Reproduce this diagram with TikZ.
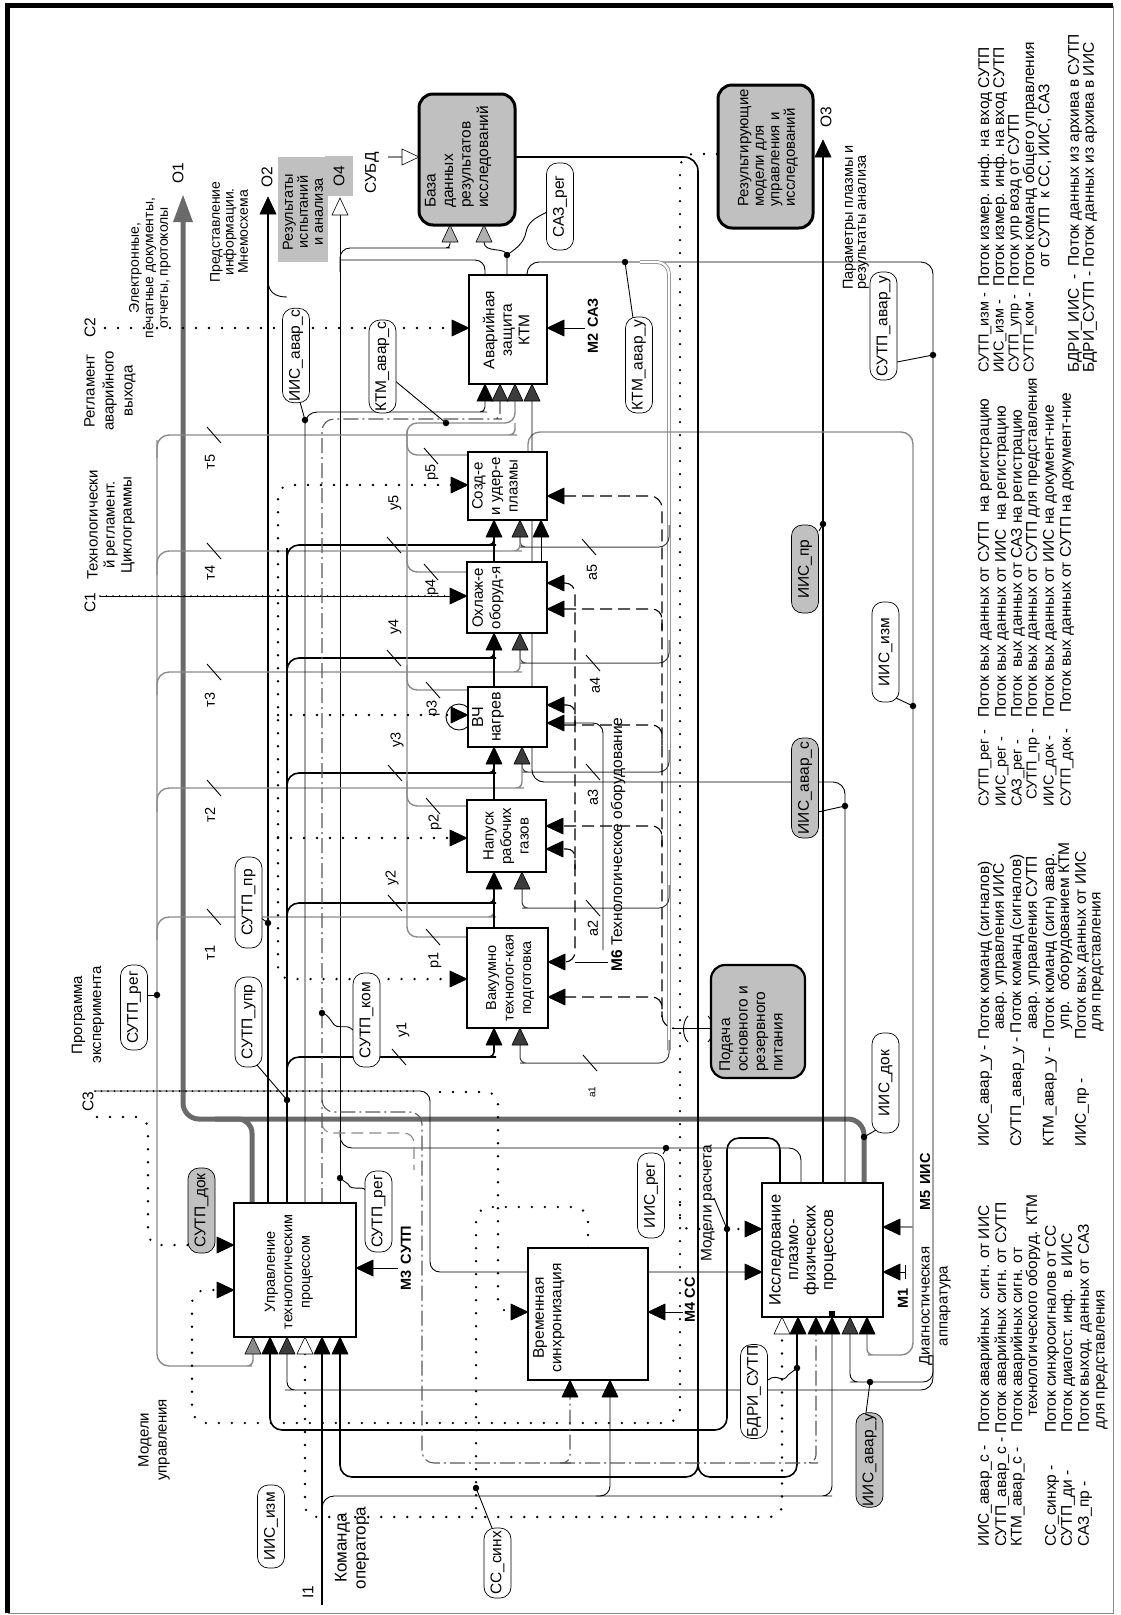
\documentclass[tikz,border=0pt]{standalone}
\usepackage{fontspec}
\setmainfont{Liberation Sans}
\usetikzlibrary{arrows.meta}
\definecolor{dg}{HTML}{3C3C3C}
\definecolor{mg}{HTML}{8A8A8A}
\definecolor{tg}{HTML}{6A6A6A}
\definecolor{lg}{HTML}{C0C0C0}
\definecolor{ag}{HTML}{B0B0B0}
\newcommand{\tipU}[3][black]{\filldraw[fill=#1,draw=black,line width=0.6pt] (#2,#3) -- ++(-8,17) -- ++(16,0) -- cycle;}
\newcommand{\tipR}[3][black]{\filldraw[fill=#1,draw=black,line width=0.6pt] (#2,#3) -- ++(-17,-8) -- ++(0,16) -- cycle;}
\newcommand{\tipL}[3][black]{\filldraw[fill=#1,draw=black,line width=0.6pt] (#2,#3) -- ++(17,-8) -- ++(0,16) -- cycle;}
\newcommand{\tick}[2]{\draw[line width=0.9pt] (#1-7,#2-8) -- (#1+7,#2+8);}
\newcommand{\fbx}[1]{\fontsize{#1}{17.5}\selectfont}
\newcommand{\flab}{\fontsize{15.5}{17}\selectfont}
\newcommand{\fleg}{\fontsize{15.5}{16}\selectfont}
\newcommand{\flegs}{\fontsize{14.5}{16}\selectfont}
\newcommand{\fsm}{\fontsize{14.5}{16}\selectfont}
\newcommand{\fmb}{\bfseries\fontsize{14.5}{16}\selectfont}
\newcommand{\legl}[3]{\node[rotate=90, anchor=west, inner sep=0pt, font=\fleg] at (#1,#2) {#3};}
\newcommand{\legs}[3]{\node[rotate=90, anchor=west, inner sep=0pt, font=\flegs] at (#1,#2) {#3};}
\begin{document}
\begin{tikzpicture}[x=1pt,y=-1pt,
 pbox/.style={draw, line width=1.6pt, fill=white, inner sep=0pt},
 gbox/.style={draw, line width=3pt, fill=lg, rounded corners=14pt, inner sep=0pt},
 blk/.style={line width=1.6pt},
 thn/.style={line width=0.9pt},
 gry/.style={draw=mg, line width=1.4pt},
 agl/.style={draw=black!75, line width=1pt},
 tgl/.style={draw=tg, line width=5pt},
 dotl/.style={line width=2.6pt, dash pattern=on 0pt off 13pt, line cap=round},
 ddot/.style={line width=2pt, dash pattern=on 0pt off 6.5pt, line cap=round},
 dshl/.style={line width=1.1pt, dash pattern=on 12pt off 6pt},
 ddl/.style={draw=black!65, line width=1.1pt, dash pattern=on 15pt off 4pt on 2pt off 4pt},
 lab/.style={draw, line width=0.7pt, rotate=90, rounded corners=11pt, fill=white, inner sep=1pt, font=\flab, minimum height=27pt},
 glab/.style={lab, fill=lg},
 txt/.style={rotate=90, inner sep=0pt, align=center},
 jdot/.style={circle, fill, inner sep=0pt, minimum size=6.5pt},
]
\useasboundingbox (0,0) rectangle (1121,1615);
\fill[white] (0,0) rectangle (1121,1615);
% frame
\draw[line width=5pt] (7.5,1613) -- (7.5,5.5) -- (1113,5.5);
\draw[mg, line width=1pt] (1113,5.5) -- (1113,1613) -- (7.5,1613);

% ================= LINES =================
% O1 thick gray
\draw[tgl, rounded corners=16pt] (864,1183) |- (183,1119) -- (183,218);
\draw[tgl, rounded corners=14pt] (252,1203) |- (215,1119);
% O2
\draw[blk] (268,1203) -- (268,214);
\draw[thn] (268,280) .. controls (268,292) and (275,297) .. (287,297);
% O4 and DB
\draw[thn] (340,1203) -- (340,214);
\draw[thn, rounded corners=10pt] (340,272) |- (440,248) [rounded corners=4pt] -| (450,242);
\draw[thn, rounded corners=10pt] (485,275) |- (340,260);
\draw[thn] (507,275) -- (507,256) .. controls (507,246) and (484,254) .. (484,242);
% O3
\draw[blk] (823,1183) -- (823,157);
% SUTP_avar_u loop
\draw[thn, rounded corners=12pt] (527,275) |- (933,262) |- (297,1390) [rounded corners=8pt] -| (287,1354);
\draw[thn, rounded corners=10pt] (933,1355) |- (860,1382) [rounded corners=8pt] -| (850,1334);
% a bus
\draw[mg, double=white, double distance=2.2pt, line width=0.8pt, rounded corners=12pt] (640,262) -| (669,1050);
\draw[agl, rounded corners=10pt] (669,1040) |- (530,1063) [rounded corners=6pt] -| (520,1045);
\draw[agl, rounded corners=10pt] (669,525) |- (530,547) [rounded corners=5pt] -| (520,537);
\draw[agl, rounded corners=10pt] (669,640) |- (530,663) [rounded corners=6pt] -| (520,650);
\draw[agl, rounded corners=10pt] (669,750) |- (532,772) [rounded corners=6pt] -| (522,764);
\draw[agl, rounded corners=10pt] (669,885) |- (532,908) [rounded corners=6pt] -| (522,889);
% tau bus
\draw[gry, rounded corners=12pt] (157,458) |- (505,435) [rounded corners=6pt] -| (515,423);
\draw[gry, rounded corners=12pt] (157,440) -- (157,1366) -- (240,1366) [rounded corners=6pt] -| (253,1354);
\draw[gry, rounded corners=12pt] (157,575) |- (510,551) [rounded corners=6pt] -| (520,537);
\draw[gry, rounded corners=12pt] (157,695) |- (510,672) [rounded corners=6pt] -| (520,650);
\draw[gry, rounded corners=12pt] (157,812) |- (512,788) [rounded corners=6pt] -| (522,764);
\draw[gry, rounded corners=12pt] (157,940) |- (484,917) [rounded corners=6pt] -| (494,889);
% y bus
\draw[blk, rounded corners=12pt] (287,1203) -- (287,560) |- (484,545) [rounded corners=5pt] -| (494,537);
\draw[blk, rounded corners=12pt] (287,680) |- (484,658) [rounded corners=5pt] -| (494,650);
\draw[blk, rounded corners=12pt] (287,797) |- (484,773) [rounded corners=5pt] -| (494,764);
\draw[blk, rounded corners=12pt] (287,927) |- (484,903) [rounded corners=5pt] -| (494,889);
\draw[blk, rounded corners=12pt] (287,1080) |- (484,1057) [rounded corners=5pt] -| (494,1045);
% column verticals
\draw[blk] (494,928) -- (494,889);
\draw[blk] (494,800) -- (494,764);
\draw[blk] (494,687) -- (494,650);
\draw[blk] (494,562) -- (494,537);
\draw[thn] (541,562) -- (541,537);
% Sozd top -> IIS
\draw[gry, rounded corners=12pt] (528,452) |- (913,432) -- (913,1355) -- (880,1355) [rounded corners=6pt] -| (867,1334);
\draw[gry] (913,1227) -- (900,1227);
% I top 845 -> Avar 532
\draw[thn, rounded corners=12pt] (845,1183) |- (532,782) -- (532,401);
% p loop (gray)
\draw[gry, rounded corners=10pt] (467,937) -| (407,423) -| (515,401);
\draw[gry, rounded corners=10pt] (407,430) |- (467,455);
\draw[gry, rounded corners=10pt] (407,547) |- (467,572);
\draw[gry, rounded corners=10pt] (407,665) |- (468,690);
\draw[gry, rounded corners=10pt] (407,781) |- (467,806);
% dotted p bus
\draw[dotl, rounded corners=12pt] (451,485) -| (278,979) -- (451,979);
\draw[dotl] (278,715) -- (451,715);
\draw[dotl] (278,838) -- (450,838);
\draw[thn] (459,717) circle (13pt);
% C1, C2
\draw[thn] (100,596) -- (451,596);
\draw[ddot] (100,596) -- (451,596);
\draw[dotl] (105,328) -- (452,328);
% C3
\draw[thn, rounded corners=10pt] (95,1091) -| (430,1272) -- (745,1272);
\draw[ddot] (95,1091) -- (420,1091);
\draw[dotl, rounded corners=12pt] (440,1092) -| (498,1312) -- (511,1312);
\draw[dotl, rounded corners=12pt] (97,1117) -| (148,1245) -- (217,1245);
% models of control (dotted)
\draw[dotl, rounded corners=14pt] (717,154) -| (680,1423) -| (192,1290) -- (217,1290);
\draw[dotl, rounded corners=10pt] (680,1205) |- (745,1229);
% sync dotted
\draw[dotl, rounded corners=14pt] (588,1248) |- (476,1207) -- (476,1510);
\draw[dotl, rounded corners=12pt] (305,1354) |- (782,1517) -- (782,1334);
% I1
\draw[blk] (322,1605) -- (322,1354);
\draw[thn, rounded corners=12pt] (322,1522) |- (820,1496) [rounded corners=10pt] -| (832,1334);
\draw[thn, rounded corners=10pt] (596,1496) -| (610,1397);
% DB -> 698
\draw[blk, rounded corners=14pt] (515,157) -| (698,1450);
\draw[blk, rounded corners=12pt] (698,1440) |- (340,1477) -- (340,1354);
\draw[blk, rounded corners=12pt] (698,1440) |- (797,1477) -- (797,1334);
% I top 780 loop
\draw[blk, rounded corners=12pt] (780,1183) |- (727,1138) -- (727,1430) -- (270,1430) -- (270,1354);
% I top 801
\draw[thn, rounded corners=12pt] (801,1183) |- (340,1148) -- (340,1130);
% dash-dot
\draw[ddl, rounded corners=12pt] (322,1203) -- (322,419) -- (490,419) [rounded corners=6pt] -| (500,401);
\draw[ddl, rounded corners=12pt] (322,1100) |- (422,1112) -- (422,1463) -- (560,1463) [rounded corners=8pt] -| (570,1397);
\draw[ddl, rounded corners=12pt] (560,1463) -- (806,1463) [rounded corners=8pt] -| (816,1334);
\draw[draw=mg, dshl, rounded corners=10pt] (322,1122) |- (414,1133) -- (414,1170);
% x305
\draw[thn, rounded corners=12pt] (305,1203) |- (475,412) [rounded corners=5pt] -| (485,401);
% M6
\draw[thn, rounded corners=10pt] (603,950) |- (564,723);
\draw[dshl, rounded corners=10pt] (564,583) -| (575,962) -- (564,962);
\draw[thn] (575,962) -- (608,962);
\draw[dshl, rounded corners=8pt] (564,705) -| (575,725);
\draw[dshl, rounded corners=8pt] (564,849) -| (575,869);
% dashed 662
\draw[dshl, rounded corners=12pt] (564,496) -| (662,1028) -- (674,1028);
\draw[thn] (672,1028) -- (711,1028);
\draw[dshl, rounded corners=10pt] (564,609) -| (662,630);
\draw[dshl, rounded corners=10pt] (564,725) -| (662,745);
\draw[dshl, rounded corners=10pt] (564,826) -| (662,846);
\draw[dshl, rounded corners=10pt] (564,997) -| (662,1017);
\draw[thn] (688,1016) .. controls (682,1022) and (682,1036) .. (688,1042);
\draw[thn] (708,1016) .. controls (714,1022) and (714,1036) .. (708,1042);
% mechanism stubs
\draw[thn] (585,328) -- (564,328);
\draw[thn] (398,1268) -- (373,1268);
\draw[thn] (683,1312) -- (665,1312);
\draw[thn] (906,1272) -- (900,1272);
\draw[thn] (905,1265) -- (905,1279);
\draw[mg, line width=1.2pt] (388,157) -- (402,157);

% ticks
\tick{214}{435}\tick{214}{551}\tick{214}{672}\tick{214}{788}\tick{214}{917}
\tick{394}{545}\tick{394}{658}\tick{395}{773}\tick{395}{903}\tick{399}{1057}
\tick{589}{547}\tick{593}{663}\tick{593}{772}\tick{593}{908}\tick{590}{1063}
\tick{431}{456}\tick{431}{572}\tick{433}{690}\tick{433}{806}\tick{433}{937}

% ================= BOXES =================
\node[pbox, minimum width=122pt, minimum height=134pt] (U) at (295,1270) {};
\node[pbox, minimum width=120pt, minimum height=132pt] (V) at (588,1314) {};
\node[pbox, minimum width=121pt, minimum height=134pt] (I) at (822.5,1250) {};
\node[pbox, minimum width=81pt, minimum height=100pt] (Vak) at (507.5,978) {};
\node[pbox, minimum width=79pt, minimum height=72pt] (Nap) at (506.5,836) {};
\node[pbox, minimum width=79pt, minimum height=60pt] (VCh) at (507.5,717) {};
\node[pbox, minimum width=80pt, minimum height=71pt] (Okh) at (507,597.5) {};
\node[pbox, minimum width=79pt, minimum height=68pt] (Sozd) at (507.5,486) {};
\node[pbox, minimum width=78pt, minimum height=109pt] (Avar) at (508,329.5) {};
\node[gbox, minimum width=96pt, minimum height=131pt] (Baza) at (467,159.5) {};
\node[gbox, minimum width=95pt, minimum height=143pt] (Rez) at (765.5,156.5) {};
\node[gbox, line width=2.2pt, minimum width=94pt, minimum height=113pt] (Pod) at (758,1021.5) {};
\node[fill=lg, inner sep=0pt, minimum width=50pt, minimum height=105pt] (ResR) at (303,209.5) {};
\node[fill=lg, inner sep=0pt, minimum width=28pt, minimum height=40pt] (O4R) at (339,176) {};

% ================= ARROW TIPS =================
\fill[tg] (183,195) -- (173,222) -- (193,222) -- cycle;
\tipU{268}{197} \tipU[white]{340}{198} \tipU{823}{140}
\tipU[ag]{450}{225} \tipU[ag]{484}{225} \tipR[white]{419}{157}
% U
\tipU[mg]{253}{1337} \tipU{270}{1337} \tipU[dg]{287}{1337} \tipU[white]{305}{1337} \tipU{322}{1337} \tipU{340}{1337}
\tipR{234}{1245} \tipR{234}{1290} \tipL{356}{1268}
% V
\tipR{528}{1312} \tipL{648}{1312} \tipU{570}{1380} \tipU{610}{1380}
% I
\tipR{762}{1229} \tipR{762}{1272} \tipL{883}{1227} \tipL{883}{1272}
\tipU[white]{782}{1317} \tipU{798}{1317} \tipU{816}{1317} \tipU{832}{1317} \tipU[dg]{850}{1317} \tipU{867}{1317}
\fill (829,1311) rectangle (835,1317);
% Vak
\tipU{494}{1028} \tipU[dg]{520}{1028} \tipR{467}{979} \tipL{548}{962} \tipL{548}{997}
% Nap
\tipU{494}{872} \tipU[dg]{522}{872} \tipR{467}{838} \tipL{546}{826} \tipL{546}{849}
% VCh
\tipU{494}{747} \tipU[dg]{522}{747} \tipR{468}{715} \tipL{547}{705} \tipL{547}{723}
% Okh
\tipU{494}{633} \tipU[dg]{520}{633} \tipR{467}{596} \tipL{547}{583} \tipL{547}{609}
% Sozd
\tipU{494}{520} \tipU[dg]{520}{520} \tipU{541}{520} \tipR{468}{485} \tipL{547}{496}
% Avar
\tipU{485}{384} \tipU[dg]{500}{384} \tipU[dg]{515}{384} \tipU[dg]{532}{384} \tipR{469}{328} \tipL{547}{328}

% ================= BOX TEXTS =================
\node[txt, font=\fbx{14.5}] (tU) at (289,1272) {Управление\\технологическим\\процессом};
\node[txt, font=\fbx{15.5}] (tV) at (549,1318) {Временная\\синхронизация};
\node[txt, font=\fbx{16.5}] (tI) at (803,1250) {Исследование\\плазмо-\\физических\\процессов};
\node[txt, font=\fbx{14.5}] (tVak) at (510,978) {Вакуумно\\технолог-кая\\подготовка};
\node[txt, font=\fbx{15}] (tNap) at (506,836) {Напуск\\рабочих\\газов};
\node[txt, font=\fbx{16}] (tVCh) at (488,717) {ВЧ\\нагрев};
\node[txt, font=\fbx{15}] (tOkh) at (488,598) {Охлаж-е\\оборуд-я};
\node[txt, font=\fbx{15}] (tSozd) at (495,486) {Созд-е\\и удер-е\\плазмы};
\node[txt, font=\fbx{15.5}] (tAvar) at (506,330) {Аварийная\\защита\\КТМ};
\node[txt, font=\fbx{15.5}, anchor=west, align=left] (tBaza) at (458,208) {База\\данных\\результатов\\исследований};
\node[txt, font=\fontsize{15}{15.5}\selectfont, anchor=west, align=left] (tRez) at (768,207) {Результирующие\\модели для\\управления и\\исследований};
\node[txt, font=\fbx{15.5}, anchor=west, align=left] (tPod) at (751,1072) {Подача\\основного и\\резервного\\питания};
\node[txt, font=\fontsize{14.5}{15}\selectfont] (tRes) at (303,212) {Результаты\\испытаний\\и анализа};
\node[txt, font=\flab] (tO4) at (339,176) {O4};

% ================= ANNOTATIONS =================
\node[txt, font=\fontsize{14}{14.5}\selectfont] (a1t) at (150,268) {Электронные,\\печатные документы,\\отчеты, протоколы};
\node[txt, font=\flab] (tO1) at (178,173) {O1};
\node[txt, font=\fontsize{14}{14}\selectfont] (a2t) at (229,232) {Представление\\информации.\\Мнемосхема};
\node[txt, font=\flab] (tO2) at (267,177) {O2};
\node[txt, font=\flab] (tSUBD) at (372,173) {СУБД};
\node[txt, font=\flab] (tO3) at (826,117) {O3};
\node[txt, font=\fontsize{14.5}{13}\selectfont, anchor=west, align=left] (a3t) at (856,290) {Параметры плазмы и\\результаты анализа};
\node[txt, font=\flab] (tC2) at (90,328) {C2};
\node[txt, font=\fontsize{15}{19}\selectfont] (a4t) at (110,391) {Регламент\\аварийного\\выхода};
\node[txt, font=\fontsize{15}{17}\selectfont] (a5t) at (111,525) {Технологически\\й регламент.\\Циклограммы};
\node[txt, font=\flab] (tC1) at (90,603) {C1};
\node[txt, font=\fontsize{15}{19}\selectfont] (a6t) at (88,1015) {Программа\\эксперимента};
\node[txt, font=\flab] (tC3) at (88,1102) {C3};
\node[txt, font=\fontsize{15}{18}\selectfont] (a7t) at (154,1440) {Модели\\управления};
\node[txt, font=\flab] (tI1) at (308,1592) {I1};
\node[txt, font=\fontsize{17}{19}\selectfont] (a8t) at (352,1548) {Команда\\оператора};
\node[txt, font=\fontsize{15}{18}\selectfont] (a9t) at (935,1306) {Диагностическая\\аппаратура};
\node[txt, font=\flab] (a10t) at (708,1203) {Модели расчета};
\node[txt, font=\flab, anchor=west] (a11t) at (618,972) {\textbf{M6} Технологическое оборудование};
\node[txt, font=\fmb] (m2) at (593,326) {M2\hspace{6pt}САЗ};
\node[txt, font=\fmb] (m3) at (406,1258) {M3\hspace{6pt}СУТП};
\node[txt, font=\fmb] (m4) at (690,1300) {M4 СС};
\node[txt, font=\fmb] (m5) at (925,1182) {M5\hspace{6pt}ИИС};
\node[txt, font=\fmb] (m1) at (903,1298) {M1};
% p, y, t, a labels
\node[txt, font=\fsm] (p5) at (432,472) {p5};
\node[txt, font=\fsm] (p4) at (432,587) {p4};
\node[txt, font=\fsm] (p3) at (433,708) {p3};
\node[txt, font=\fsm] (p2) at (435,822) {p2};
\node[txt, font=\fsm] (p1) at (435,960) {p1};
\node[txt, font=\fsm] (y5) at (395,503) {у5};
\node[txt, font=\fsm] (y4) at (395,627) {у4};
\node[txt, font=\fsm] (y3) at (397,740) {у3};
\node[txt, font=\fsm] (y2) at (392,878) {у2};
\node[txt, font=\fsm] (y1) at (403,1030) {у1};
\node[txt, font=\fsm] (t5) at (210,462) {т5};
\node[txt, font=\fsm] (t4) at (210,573) {т4};
\node[txt, font=\fsm] (t3) at (210,700) {т3};
\node[txt, font=\fsm] (t2) at (210,815) {т2};
\node[txt, font=\fsm] (t1) at (210,953) {т1};
\node[txt, font=\fsm] (aa5) at (592,572) {a5};
\node[txt, font=\fsm] (aa4) at (595,685) {a4};
\node[txt, font=\fsm] (aa3) at (593,797) {a3};
\node[txt, font=\fsm] (aa2) at (593,928) {a2};
\node[txt, font=\fontsize{10}{12}\selectfont] (aa1) at (592,1092) {a1};

% ================= LEADERS =================
\draw[thn] (300,402) -- (305,420);
\draw[thn] (394,380) -- (446,423);
\draw[thn] (547,212) .. controls (535,218) and (528,222) .. (526,232) .. controls (524,244) and (514,250) .. (507,255);
\draw[thn] (633,318) -- (625,262);
\draw[thn] (897,362) -- (933,355);
\draw[thn] (819,531) -- (823,524);
\draw[thn] (896,698) -- (913,706);
\draw[thn] (818,812) -- (845,806);
\draw[thn] (876,1130) -- (864,1137);
\draw[thn] (261,918) -- (268,923);
\draw[thn] (148,995) -- (157,995);
\draw[thn] (257,1065) -- (287,1100);
\draw[thn] (353,1030) .. controls (345,1022) and (338,1032) .. (332,1022) .. controls (328,1016) and (326,1014) .. (322,1013);
\draw[thn] (366,1190) .. controls (360,1185) and (352,1192) .. (348,1184) -- (340,1178);
\draw[thn] (663,1154) -- (666,1149);
\draw[thn] (768,1380) .. controls (778,1372) and (782,1385) .. (788,1375) -- (797,1368);
\draw[thn] (866,1413) -- (870,1382);
\draw[thn] (492,1528) -- (476,1488);
\draw[thn] (714,1198) -- (727,1229);

% ================= CALLOUT LABELS =================
\node[lab, minimum width=93pt] (L1) at (296,355.5) {ИИС\_авар\_с};
\node[lab, minimum width=93pt] (L2) at (382.5,366.5) {КТМ\_авар\_с};
\node[lab, minimum width=87pt] (L3) at (560,206.5) {САЗ\_рег};
\node[lab, minimum width=96pt] (L4) at (639,365) {КТМ\_авар\_у};
\node[lab, minimum width=108pt] (L5) at (883.5,326) {СУТП\_авар\_у};
\node[glab, minimum width=88pt] (L6) at (805,569) {ИИС\_пр};
\node[lab, minimum width=100pt] (L7) at (885.5,652) {ИИС\_изм};
\node[glab, minimum width=100pt] (L8) at (805,788) {ИИС\_авар\_с};
\node[lab, minimum width=100pt] (L9) at (885.5,1083) {ИИС\_док};
\node[lab, minimum width=91pt] (L10) at (248.5,902.5) {СУТП\_пр};
\node[lab, minimum width=85pt] (L11) at (134,1007.5) {СУТП\_рег};
\node[lab, minimum width=90pt] (L12) at (248.5,1022) {СУТП\_упр};
\node[lab, minimum width=94pt] (L13) at (366.5,1020) {СУТП\_ком};
\node[glab, minimum width=85pt] (L14) at (201.5,1210.5) {СУТП\_док};
\node[lab, minimum width=81pt] (L15) at (378.5,1211.5) {СУТП\_рег};
\node[lab, minimum width=85pt] (L16) at (651,1195.5) {ИИС\_рег};
\node[lab, minimum width=93pt] (L17) at (754,1391.5) {БДРИ\_СУТП};
\node[glab, minimum width=94pt] (L18) at (869.5,1460) {ИИС\_авар\_у};
\node[lab, minimum width=70pt] (L19) at (497.5,1563) {СС\_синх};
\node[lab, minimum width=83pt] (L20) at (271,1526.5) {ИИС\_изм};

% ================= DOTS =================
\foreach \p/\q in {305/420,446/423,507/255,625/262,933/355,823/524,913/706,845/806,864/1137,268/923,157/995,287/1100,322/1013,340/1178,666/1148,797/1368,870/1382,476/1488,727/1229}
  \node[jdot] at (\p,\q) {};

% ================= LEGEND =================
\legs{985}{373}{СУТП\_изм -} \legl{985}{287}{Поток измер. инф. на вход СУТП}
\legs{1000}{373}{ИИС\_изм -} \legl{1000}{287}{Поток измер. инф. на вход СУТП}
\legs{1015}{373}{СУТП\_упр -} \legl{1015}{287}{Поток упр возд от СУТП}
\legs{1030}{373}{СУТП\_ком -} \legl{1030}{287}{Поток команд общего управления}
\legl{1045}{268}{от СУТП \ к СС, ИИС, САЗ}
\legl{1075}{373}{БДРИ\_ИИС \ - \ Поток данных из архива в СУТП}
\legl{1090}{373}{БДРИ\_СУТП - Поток данных из архива в ИИС}

\legs{985}{807}{СУТП\_рег -} \legl{985}{718}{Поток вых данных от СУТП \ на регистрацию}
\legs{1002}{807}{ИИС\_рег -} \legl{1002}{718}{Поток вых данных от ИИС \ на регистрацию}
\legs{1018}{807}{САЗ\_рег -} \legl{1018}{718}{Поток \ вых данных от САЗ на регистрацию}
\legs{1033}{800}{СУТП\_пр -} \legl{1033}{718}{Поток вых данных от СУТП для представления}
\legs{1050}{807}{ИИС\_док -} \legl{1050}{718}{Поток вых данных от ИИС на документ-ние}
\legs{1067}{807}{СУТП\_док -} \legl{1067}{713}{Поток вых данных от СУТП на документ-ние}

\legl{985}{1147}{ИИС\_авар\_у -} \legl{985}{1040}{Поток команд (сигналов)}
\legl{1000}{1030}{авар. управления ИИС}
\legl{1017}{1147}{СУТП\_авар\_у - Поток команд (сигналов)}
\legl{1033}{1030}{авар. управления СУТП}
\legl{1050}{1147}{КТМ\_авар\_у -} \legl{1050}{1040}{Поток команд (сигн) авар.}
\legl{1065}{1030}{упр. \ оборудованием КТМ}
\legl{1082}{1147}{ИИС\_пр -} \legl{1082}{1040}{Поток вых данных от ИИС}
\legl{1098}{1032}{для представления}

\legl{985}{1547}{ИИС\_авар\_с -} \legl{985}{1433}{Поток аварийных \ сигн. от ИИС}
\legl{1002}{1547}{СУТП\_авар\_с - Поток аварийных сигн. от СУТП}
\legl{1018}{1547}{КТМ\_авар\_с -} \legl{1018}{1433}{Поток аварийных сигн. от}
\legl{1033}{1417}{технологического оборуд. КТМ}
\legl{1052}{1547}{СС\_синхр -} \legl{1052}{1433}{Поток синхросигналов от СС}
\legl{1068}{1547}{СУТП\_ди -} \legl{1068}{1433}{Поток диагост. инф. \ в ИИС}
\legl{1085}{1547}{САЗ\_пр -} \legl{1085}{1433}{Поток выход. данных от САЗ}
\legl{1102}{1430}{для представления}
\end{tikzpicture}
\end{document}
